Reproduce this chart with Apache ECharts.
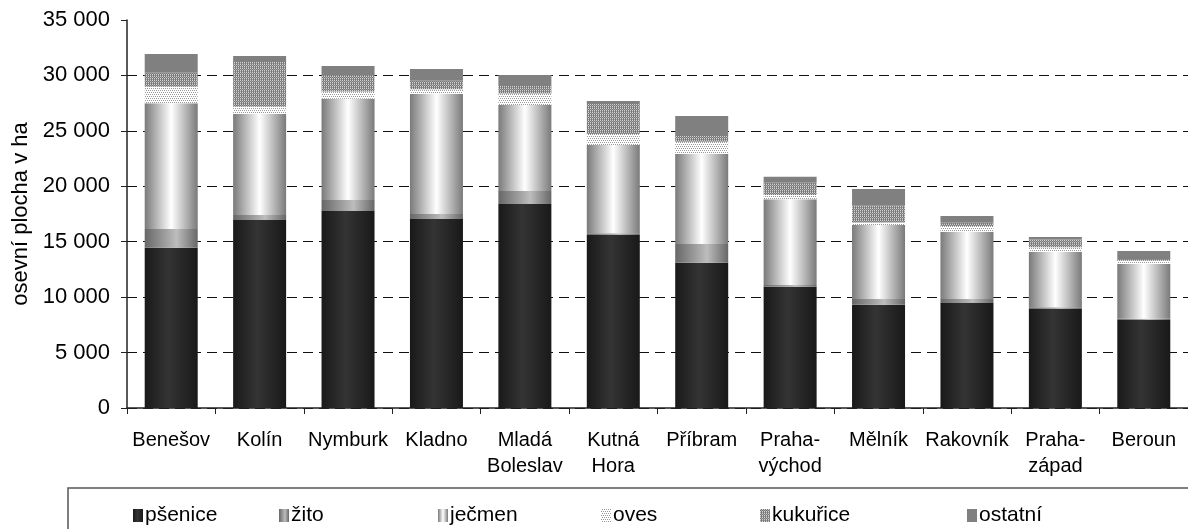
<!DOCTYPE html>
<html>
<head>
<meta charset="utf-8">
<script src="https://cdn.jsdelivr.net/npm/echarts@6/dist/echarts.min.js"></script>
<style>
html, body { margin: 0; padding: 0; background: #fff; }
#chart { width: 1188px; height: 529px; }
</style>
</head>
<body>
<div id="chart"></div>
<script>
var categories = ['Benešov', 'Kolín', 'Nymburk', 'Kladno', 'Mladá\nBoleslav', 'Kutná\nHora',
    'Příbram', 'Praha-\nvýchod', 'Mělník', 'Rakovník', 'Praha-\nzápad', 'Beroun'];
var psenice  = [14460, 16960, 17770, 17050, 18400, 15600, 13110, 10940, 9320, 9470, 8930, 7940];
var zito     = [1690, 450, 990, 450, 1170, 160, 1680, 150, 510, 360, 150, 120];
var jecmen   = [11340, 9110, 9130, 10820, 7760, 7960, 8120, 7730, 6670, 6080, 5020, 4930];
var oves     = [1500, 660, 650, 430, 1050, 990, 1110, 390, 240, 510, 390, 300];
var kukurice = [1260, 4030, 1500, 770, 660, 2710, 510, 1120, 1510, 300, 720, 150];
var ostatni  = [1680, 540, 810, 1060, 1000, 270, 1810, 540, 1500, 600, 210, 720];
var yTicks = [0, 35000, 5000]; // min, max, step

var FONT = 'Liberation Sans, Arial, sans-serif';

function grad(edge, mid, pos){
    return new echarts.graphic.LinearGradient(0, 0, 1, 0, [
        {offset: 0, color: edge},
        {offset: pos, color: mid},
        {offset: 1, color: edge}
    ]);
}

// small pixel tiles for the hatched series
function tile(rows, colors){
    var c = document.createElement('canvas');
    c.width = rows[0].length; c.height = rows.length;
    var ctx = c.getContext('2d');
    for(var y = 0; y < rows.length; y++){
        for(var x = 0; x < rows[y].length; x++){
            ctx.fillStyle = colors[rows[y][x]];
            ctx.fillRect(x, y, 1, 1);
        }
    }
    return {image: c, repeat: 'repeat'};
}

var ovesFill = tile([
    '0101',
    '0000',
    '1010',
    '0000'
], {'0': '#ffffff', '1': '#999999'});

var kukFill = tile([
    '0101',
    '1212',
    '0101',
    '2121'
], {'0': '#d4d4d4', '1': '#777777', '2': '#a0a0a0'});

var fills = {
    'pšenice': grad('#191919', '#343434', 0.45),
    'žito': grad('#676767', '#bdbdbd', 0.6),
    'ječmen': grad('#7a7a7a', '#ffffff', 0.5),
    'oves': ovesFill,
    'kukuřice': kukFill,
    'ostatní': '#808080'
};

function spaced(v){
    return String(v).replace(/\B(?=(\d{3})+(?!\d))/g, ' ');
}

function bar(name, data){
    return {
        name: name,
        type: 'bar',
        stack: 'a',
        barWidth: 53,
        data: data,
        itemStyle: {color: fills[name]},
        emphasis: {disabled: true}
    };
}

var legendPos = [['pšenice', 128], ['žito', 274], ['ječmen', 433], ['oves', 596], ['kukuřice', 755], ['ostatní', 962]];

var chart = echarts.init(document.getElementById('chart'));
chart.setOption({
    animation: false,
    backgroundColor: '#fff',
    textStyle: {fontFamily: FONT},
    grid: {left: 127, top: 20, right: -8, bottom: 121, containLabel: false},
    legend: legendPos.map(function(p){
        return {
            data: [p[0]],
            icon: 'rect',
            left: p[1],
            top: 500,
            itemWidth: 10,
            itemHeight: 13,
            itemGap: 0,
            textStyle: {fontSize: 21, color: '#000', fontFamily: FONT, padding: [0, 0, 0, -3]}
        };
    }),
    graphic: [{
        type: 'polyline',
        shape: {points: [[68, 535], [68, 488], [1195, 488]]},
        style: {stroke: '#555', lineWidth: 1.5, fill: null}
    }],
    xAxis: {
        type: 'category',
        data: categories,
        axisLine: {lineStyle: {color: '#222', width: 1.5}},
        axisTick: {show: true, length: 6, lineStyle: {color: '#222'}},
        axisLabel: {color: '#000', fontSize: 20, lineHeight: 26, margin: 19, interval: 0, fontFamily: FONT}
    },
    yAxis: {
        type: 'value',
        min: yTicks[0],
        max: yTicks[1],
        interval: yTicks[2],
        name: 'osevní plocha v ha',
        nameLocation: 'middle',
        nameGap: 91,
        nameTextStyle: {fontSize: 22, color: '#000', fontFamily: FONT},
        axisLine: {show: true, lineStyle: {color: '#222', width: 1.5}},
        axisTick: {show: true, length: 6, lineStyle: {color: '#222'}},
        axisLabel: {color: '#000', fontSize: 22, margin: 17, formatter: spaced, fontFamily: FONT},
        splitLine: {
            show: true,
            showMaxLine: false,
            lineStyle: {color: '#111', type: [10, 6], width: 1}
        }
    },
    series: [
        bar('pšenice', psenice),
        bar('žito', zito),
        bar('ječmen', jecmen),
        bar('oves', oves),
        bar('kukuřice', kukurice),
        bar('ostatní', ostatni)
    ]
});
</script>
</body>
</html>
